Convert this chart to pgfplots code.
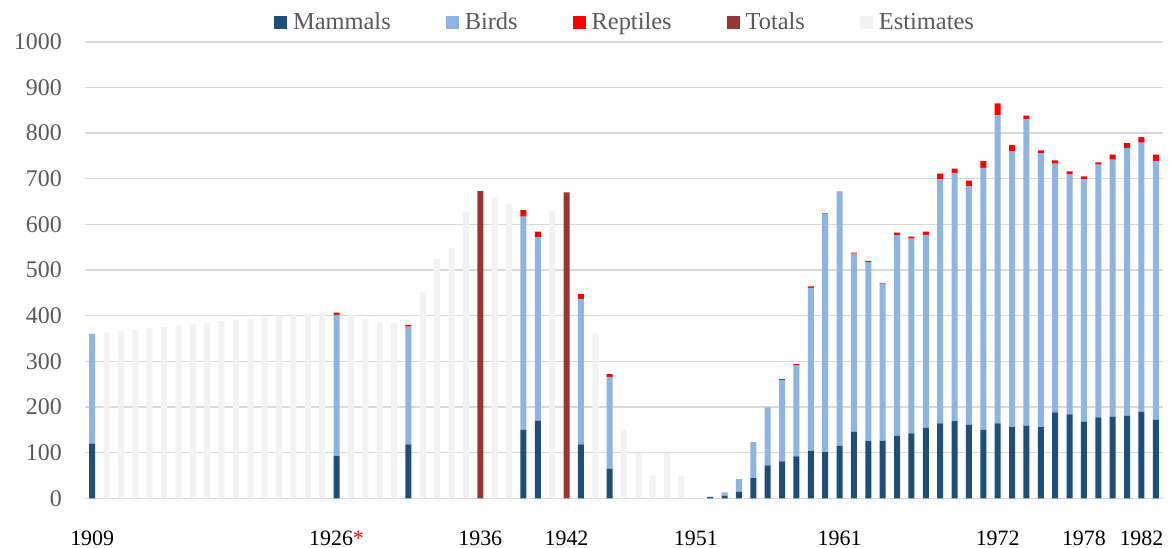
\documentclass[border=0pt]{standalone}
\usepackage{pgfplots}
\usepackage{pgfplotstable}
\pgfplotsset{compat=1.18}
\usepackage{fontspec}
\setmainfont{Liberation Serif}
\definecolor{cMam}{HTML}{1F4E79}
\definecolor{cBird}{HTML}{8EB4E3}
\definecolor{cRep}{HTML}{FF0000}
\definecolor{cTot}{HTML}{953735}
\definecolor{cEst}{HTML}{F2F2F2}
\definecolor{cGrid}{HTML}{D9D9D9}
\definecolor{cTxt}{HTML}{595959}
\pgfplotstableread{
year M B R T E
1909 120 240 0 0 0
1910 0 0 0 0 363
1911 0 0 0 0 366
1912 0 0 0 0 369
1913 0 0 0 0 372
1914 0 0 0 0 375
1915 0 0 0 0 378
1916 0 0 0 0 381
1917 0 0 0 0 384
1918 0 0 0 0 388
1919 0 0 0 0 391
1920 0 0 0 0 393
1921 0 0 0 0 396
1922 0 0 0 0 400
1923 0 0 0 0 403
1924 0 0 0 0 405
1925 0 0 0 0 407
1926 93 309 5 0 0
1927 0 0 0 0 402
1928 0 0 0 0 393
1929 0 0 0 0 386
1930 0 0 0 0 385
1931 118 258 4 0 0
1932 0 0 0 0 451
1933 0 0 0 0 524
1934 0 0 0 0 548
1935 0 0 0 0 628
1936 0 0 0 673 0
1937 0 0 0 0 660
1938 0 0 0 0 645
1939 150 467 14 0 0
1940 170 402 12 0 0
1941 0 0 0 0 629
1942 0 0 0 670 0
1943 118 319 10 0 0
1944 0 0 0 0 361
1945 65 201 6 0 0
1946 0 0 0 0 150
1947 0 0 0 0 99
1948 0 0 0 0 50
1949 0 0 0 0 99
1950 0 0 0 0 50
1951 0 0 0 0 0
1952 3 0 0 0 0
1953 6 7 0 0 0
1954 14 28 0 0 0
1955 44 79 0 0 0
1956 72 127 0 0 0
1957 81 178 2 0 0
1958 92 200 2 0 0
1959 104 357 3 0 0
1960 101 522 1 0 0
1961 115 555 2 0 0
1962 146 390 2 0 0
1963 125 393 2 0 0
1964 126 344 2 0 0
1965 137 440 5 0 0
1966 142 427 4 0 0
1967 155 422 7 0 0
1968 164 535 12 0 0
1969 169 544 9 0 0
1970 161 523 12 0 0
1971 150 574 15 0 0
1972 164 675 26 0 0
1973 156 604 14 0 0
1974 159 671 8 0 0
1975 156 600 6 0 0
1976 188 545 7 0 0
1977 184 526 6 0 0
1978 168 531 6 0 0
1979 177 554 5 0 0
1980 179 563 11 0 0
1981 181 586 11 0 0
1982 190 589 12 0 0
1983 172 567 14 0 0
}\datatable
\begin{document}
\begin{tikzpicture}
\useasboundingbox (-85bp,-49.7bp) rectangle (1087bp,498.3bp);
\begin{axis}[
  at={(0,0)}, anchor=south west,
  scale only axis,
  width=1078bp, height=456.5bp,
  xmin=1908.5, xmax=1983.5,
  ymin=0, ymax=1000,
  ybar stacked,
  bar width=6bp,
  axis line style={draw=none},
  major tick length=0pt,
  ytick={0,100,...,1000},
  ymajorgrids,
  grid style={cGrid, line width=1.5bp},
  /pgf/number format/1000 sep={},
  /pgf/number format/assume math mode=true,
  yticklabel style={font=\fontsize{24}{24}\selectfont, text=cTxt, inner sep=0pt, anchor=east, xshift=-23bp},
  xtick={1909,1926,1936,1942,1951,1961,1972,1978,1982},
  xticklabels={1909,1926{\color{red}*},1936,1942,1951,1961,1972,1978,1982},
  xticklabel style={font=\fontsize{22}{22}\selectfont, text=black, inner sep=0pt, anchor=base, yshift=-47bp},
  legend columns=5,
  legend image code/.code={\fill[#1] (0bp,-6.5bp) rectangle (13bp,6.5bp);},
  legend style={draw=none, fill=none, at={(0.50,1.043)}, anchor=center,
    font=\fontsize{24.5}{24.5}\selectfont, text=cTxt,
    nodes={inner sep=0pt},
    /tikz/every odd column/.append style={column sep=6bp},
    /tikz/every even column/.append style={column sep=55bp}},
]
\addplot[fill=cMam, draw=none] table[x=year, y=M] {\datatable};
\addplot[fill=cBird, draw=none] table[x=year, y=B] {\datatable};
\addplot[fill=cRep, draw=none] table[x=year, y=R] {\datatable};
\addplot[fill=cTot, draw=none] table[x=year, y=T] {\datatable};
\addplot[fill=cEst, draw=none] table[x=year, y=E] {\datatable};
\legend{Mammals,Birds,Reptiles,Totals,Estimates}
\end{axis}
\end{tikzpicture}
\end{document}
